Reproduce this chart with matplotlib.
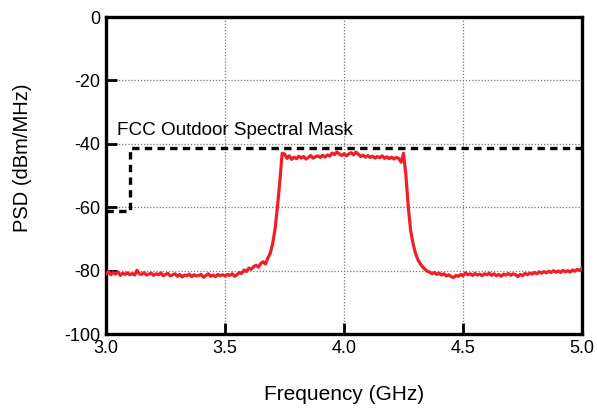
import numpy as np
import matplotlib
matplotlib.use("Agg")
import matplotlib.pyplot as plt
from matplotlib.ticker import FixedLocator

plt.rcParams['font.family'] = ['Liberation Sans', 'DejaVu Sans']

# Measured PSD, 3.00 .. 5.00 GHz in 10 MHz steps (dBm/MHz)
psd_dbm = [
    -81.0, -80.2, -81.3, -80.6, -81.1, -80.4, -81.5, -80.8, -81.2, -80.7,
    -81.3, -80.9, -81.4, -79.9, -81.0, -81.2, -80.6, -81.4, -81.1, -80.8,
    -81.5, -81.0, -81.3, -80.7, -81.6, -81.2, -80.9, -81.7, -81.3, -81.0,
    -81.8, -81.2, -82.0, -81.4, -81.6, -81.1, -81.9, -81.3, -81.7, -81.5,
    -81.2, -82.1, -81.5, -81.0, -81.8, -81.4, -81.9, -81.2, -81.6, -81.3,
    -81.7, -81.2, -81.5, -81.0, -81.8, -81.3, -80.6, -80.9, -79.8, -80.3,
    -79.2, -79.6, -78.8, -78.3, -78.9, -77.8, -77.2, -77.9, -76.0, -74.5,
    -71.5, -67.0, -60.0, -52.0, -43.0, -43.2, -44.6, -43.8, -44.9, -44.2,
    -44.7, -43.9, -44.5, -44.0, -44.8, -44.3, -43.7, -44.5, -44.1, -43.8,
    -44.3, -43.6, -44.2, -43.5, -43.9, -42.9, -43.4, -42.6, -43.2, -43.7,
    -43.1, -43.8, -43.2, -42.8, -43.5, -42.6, -43.3, -44.0, -43.6, -44.2,
    -43.7, -44.3, -43.9, -44.5, -44.0, -44.4, -43.8, -44.6, -44.1, -44.7,
    -44.2, -44.8, -44.3, -44.6, -45.8, -43.0, -50.0, -60.0, -67.5, -71.5,
    -74.5, -76.5, -77.8, -78.8, -79.6, -80.2, -80.5, -81.0, -80.6, -81.2,
    -80.8, -81.4, -81.0, -81.7, -81.3, -81.9, -82.2, -81.5, -81.8, -81.2,
    -81.6, -80.7, -81.3, -81.0, -81.5, -80.9, -81.4, -81.1, -81.6, -81.0,
    -81.3, -80.8, -81.5, -81.0, -81.6, -81.2, -81.8, -81.1, -81.4, -80.9,
    -81.5, -81.0, -81.3, -81.9, -81.2, -81.6, -80.9, -81.3, -80.8, -81.1,
    -80.6, -81.0, -80.4, -80.8, -80.3, -80.7, -80.2, -80.6, -80.0, -80.5,
    -80.1, -80.6, -79.9, -80.4, -80.0, -80.5, -79.8, -80.2, -79.6, -80.0,
    -79.2,
]
freq_ghz = np.linspace(3.0, 5.0, len(psd_dbm))

# FCC outdoor spectral mask (step outline)
mask_freq = [3.0, 3.1, 3.1, 5.0]
mask_dbm = [-61.2, -61.2, -41.3, -41.3]

x_ticks = [3.0, 3.5, 4.0, 4.5, 5.0]
x_labels = ["3.0", "3.5", "4.0", "4.5", "5.0"]
y_ticks = [0, -20, -40, -60, -80, -100]
y_labels = ["0", "-20", "-40", "-60", "-80", "-100"]

fig = plt.figure(figsize=(5.97, 4.11), dpi=100)
ax = fig.add_axes([0.1776, 0.1873, 0.7974, 0.7713])

ax.plot(freq_ghz, psd_dbm, color="#ee2026", lw=2.3, zorder=3)
ax.plot(mask_freq, mask_dbm, color="black", lw=2.4,
        linestyle=(0, (2.2, 1.6)), zorder=4)

ax.set_xlim(3.0, 5.0)
ax.set_ylim(-100, 0)
ax.xaxis.set_major_locator(FixedLocator(x_ticks))
ax.yaxis.set_major_locator(FixedLocator(y_ticks))
ax.set_xticklabels(x_labels, fontsize=13)
ax.set_yticklabels(y_labels, fontsize=13)

ax.grid(True, color="#777777", linestyle=(0, (1, 1.5)), lw=0.9)
ax.tick_params(direction="in", length=8, width=2, pad=4)
for s in ax.spines.values():
    s.set_linewidth(2.4)

ax.set_xlabel("Frequency (GHz)", fontsize=15)
ax.xaxis.set_label_coords(0.5, -0.16)
ax.set_ylabel("PSD (dBm/MHz)", fontsize=14.5)
ax.yaxis.set_label_coords(-0.155, 0.557)

ax.text(3.046, -35.8, "FCC Outdoor Spectral Mask", fontsize=13.6,
        ha="left", va="center")

fig.savefig("out.png", dpi=100)
